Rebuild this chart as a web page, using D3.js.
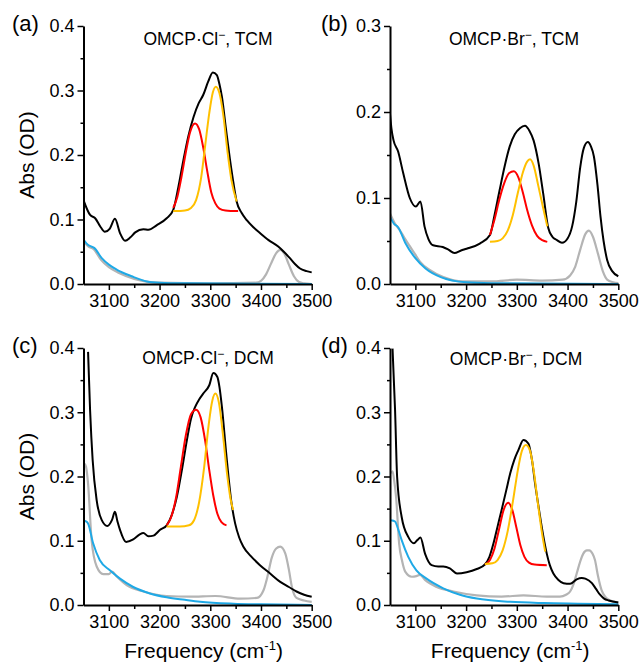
<!DOCTYPE html>
<meta charset="utf-8">
<script src="https://d3js.org/d3.v7.min.js"></script>
<head>
<style>
  body { margin: 0; background: #fff; }
  text { font-family: "Liberation Sans", Arial, sans-serif; fill: #000; }
</style>
</head>
<body>
<div id="my_dataviz"></div>

<script>
// ---- data: [frequency (cm-1), absorbance (OD)] ----

// (a) OMCP.Cl-, TCM
var aBlack = [[3050,0.130],[3063,0.107],[3073,0.102],[3084,0.088],[3092,0.081],[3102,0.086],[3112,0.101],[3122,0.079],[3132,0.067],[3142,0.072],[3152,0.080],[3168,0.085],[3178,0.084],[3194,0.091],[3214,0.102],[3227,0.115],[3237,0.150],[3247,0.192],[3257,0.230],[3267,0.259],[3277,0.280],[3286,0.293],[3296,0.314],[3305,0.328],[3313,0.324],[3318,0.310],[3323,0.290],[3331,0.240],[3339,0.192],[3346,0.155],[3352,0.128],[3362,0.110],[3372,0.099],[3385,0.088],[3398,0.079],[3415,0.068],[3434,0.058],[3445,0.050],[3457,0.040],[3467,0.031],[3477,0.024],[3490,0.020],[3500,0.018]];
var aRed = [[3227,0.118],[3235,0.135],[3243,0.165],[3252,0.205],[3260,0.235],[3270,0.249],[3278,0.240],[3286,0.212],[3294,0.175],[3302,0.142],[3310,0.125],[3318,0.117],[3330,0.114],[3355,0.113]];
var aOrange = [[3227,0.113],[3250,0.114],[3262,0.118],[3272,0.130],[3282,0.165],[3290,0.215],[3298,0.265],[3305,0.297],[3311,0.306],[3318,0.296],[3326,0.260],[3334,0.205],[3342,0.160],[3352,0.128]];
var aGray = [[3050,0.066],[3060,0.058],[3070,0.054],[3085,0.037],[3100,0.026],[3120,0.017],[3150,0.008],[3200,0.002],[3300,0.001],[3390,0.002],[3400,0.005],[3410,0.015],[3420,0.032],[3430,0.048],[3438,0.053],[3446,0.047],[3455,0.030],[3465,0.012],[3475,0.003],[3485,0.001],[3500,0.000]];
var aBlue = [[3050,0.069],[3060,0.060],[3066,0.058],[3071,0.056],[3086,0.040],[3100,0.030],[3116,0.022],[3145,0.012],[3175,0.004],[3200,0.002],[3250,0.001],[3500,0.000]];

// (b) OMCP.Br-, TCM
var bBlack = [[3050,0.198],[3053,0.180],[3057,0.167],[3066,0.154],[3076,0.129],[3089,0.100],[3101,0.090],[3110,0.096],[3118,0.067],[3126,0.052],[3135,0.045],[3154,0.043],[3165,0.040],[3177,0.036],[3190,0.039],[3201,0.041],[3227,0.047],[3247,0.057],[3256,0.080],[3266,0.109],[3276,0.137],[3286,0.160],[3296,0.174],[3306,0.181],[3316,0.184],[3325,0.178],[3333,0.167],[3343,0.140],[3352,0.105],[3362,0.065],[3370,0.055],[3379,0.051],[3389,0.048],[3400,0.053],[3409,0.067],[3417,0.095],[3425,0.136],[3432,0.158],[3440,0.165],[3446,0.160],[3452,0.148],[3459,0.115],[3465,0.078],[3471,0.050],[3478,0.028],[3488,0.015],[3500,0.009]];
var bRed = [[3247,0.057],[3256,0.075],[3265,0.097],[3275,0.117],[3285,0.129],[3294,0.131],[3303,0.124],[3312,0.106],[3320,0.087],[3330,0.068],[3340,0.056],[3350,0.051],[3360,0.049]];
var bOrange = [[3247,0.049],[3262,0.050],[3272,0.053],[3282,0.062],[3292,0.080],[3302,0.106],[3312,0.130],[3320,0.142],[3326,0.145],[3333,0.138],[3342,0.115],[3352,0.088],[3360,0.067]];
var bGray = [[3050,0.082],[3060,0.070],[3069,0.063],[3079,0.053],[3089,0.044],[3099,0.035],[3109,0.026],[3129,0.016],[3155,0.008],[3194,0.003],[3250,0.003],[3300,0.005],[3350,0.004],[3390,0.005],[3405,0.010],[3415,0.020],[3425,0.040],[3435,0.058],[3442,0.062],[3450,0.055],[3460,0.035],[3470,0.014],[3478,0.005],[3490,0.002],[3500,0.001]];
var bBlue = [[3050,0.078],[3058,0.070],[3066,0.066],[3080,0.048],[3100,0.030],[3120,0.018],[3150,0.008],[3200,0.002],[3250,0.001],[3500,0.000]];

// (c) OMCP.Cl-, DCM
var cBlack = [[3059,0.394],[3063,0.303],[3068,0.226],[3076,0.163],[3086,0.132],[3097,0.123],[3106,0.132],[3112,0.145],[3117,0.130],[3122,0.117],[3134,0.098],[3148,0.102],[3161,0.110],[3168,0.112],[3178,0.107],[3188,0.108],[3201,0.117],[3214,0.124],[3224,0.140],[3234,0.168],[3244,0.210],[3254,0.257],[3262,0.290],[3270,0.308],[3278,0.320],[3286,0.329],[3298,0.342],[3306,0.361],[3314,0.355],[3318,0.340],[3323,0.308],[3332,0.231],[3342,0.158],[3349,0.127],[3357,0.105],[3365,0.091],[3380,0.076],[3398,0.062],[3418,0.049],[3438,0.036],[3455,0.028],[3470,0.021],[3485,0.016],[3500,0.013]];
var cRed = [[3214,0.124],[3222,0.135],[3232,0.165],[3242,0.215],[3252,0.265],[3262,0.297],[3272,0.304],[3281,0.292],[3290,0.255],[3298,0.210],[3306,0.170],[3314,0.142],[3322,0.129],[3332,0.124]];
var cOrange = [[3214,0.122],[3240,0.122],[3258,0.124],[3268,0.132],[3278,0.160],[3288,0.215],[3296,0.275],[3304,0.318],[3310,0.329],[3317,0.315],[3325,0.265],[3333,0.205],[3340,0.165],[3345,0.148]];
var cGray = [[3052,0.220],[3055,0.215],[3059,0.189],[3066,0.101],[3076,0.060],[3089,0.048],[3100,0.048],[3106,0.052],[3116,0.044],[3135,0.031],[3168,0.021],[3214,0.014],[3260,0.013],[3310,0.014],[3359,0.010],[3392,0.011],[3405,0.023],[3413,0.045],[3421,0.073],[3430,0.088],[3438,0.091],[3448,0.080],[3455,0.055],[3461,0.028],[3470,0.011],[3485,0.007],[3500,0.005]];
var cBlue = [[3050,0.131],[3055,0.130],[3059,0.127],[3069,0.096],[3082,0.070],[3102,0.054],[3122,0.041],[3148,0.028],[3181,0.018],[3214,0.012],[3250,0.008],[3280,0.005],[3346,0.002],[3400,0.001],[3500,0.000]];

// (d) OMCP.Br-, DCM
var dBlack = [[3055,0.399],[3060,0.303],[3064,0.200],[3073,0.137],[3086,0.106],[3097,0.096],[3104,0.101],[3110,0.105],[3119,0.080],[3132,0.062],[3145,0.060],[3155,0.060],[3168,0.057],[3182,0.049],[3201,0.051],[3221,0.056],[3237,0.063],[3246,0.075],[3254,0.096],[3262,0.122],[3270,0.148],[3279,0.178],[3287,0.205],[3295,0.226],[3303,0.241],[3313,0.257],[3323,0.251],[3330,0.225],[3336,0.189],[3343,0.152],[3349,0.122],[3359,0.080],[3365,0.062],[3372,0.049],[3382,0.039],[3392,0.034],[3405,0.033],[3418,0.040],[3428,0.042],[3435,0.041],[3448,0.034],[3456,0.025],[3464,0.016],[3472,0.010],[3481,0.007],[3500,0.004]];
var dRed = [[3237,0.063],[3247,0.070],[3256,0.088],[3265,0.118],[3274,0.148],[3283,0.159],[3291,0.148],[3299,0.121],[3307,0.093],[3315,0.075],[3324,0.066],[3335,0.063],[3359,0.062]];
var dOrange = [[3237,0.064],[3252,0.065],[3262,0.070],[3272,0.085],[3282,0.115],[3292,0.160],[3302,0.210],[3310,0.240],[3318,0.249],[3326,0.240],[3334,0.205],[3342,0.155],[3350,0.110],[3356,0.083]];
var dGray = [[3052,0.205],[3055,0.208],[3058,0.195],[3062,0.168],[3068,0.096],[3074,0.068],[3080,0.052],[3093,0.044],[3102,0.045],[3109,0.047],[3119,0.039],[3142,0.028],[3175,0.021],[3221,0.015],[3270,0.013],[3313,0.015],[3359,0.013],[3385,0.013],[3397,0.016],[3405,0.021],[3412,0.033],[3418,0.049],[3425,0.068],[3431,0.080],[3438,0.085],[3443,0.085],[3449,0.080],[3454,0.070],[3460,0.045],[3467,0.023],[3475,0.012],[3484,0.007],[3500,0.004]];
var dBlue = [[3052,0.132],[3060,0.130],[3066,0.118],[3073,0.101],[3086,0.075],[3102,0.054],[3122,0.041],[3155,0.026],[3188,0.016],[3221,0.010],[3287,0.005],[3353,0.003],[3420,0.002],[3500,0.001]];

var panelLetters = ["(a)", "(b)", "(c)", "(d)"];
var panelSalt = ["Cl", "Br", "Cl", "Br"];
var panelSolvent = ["TCM", "TCM", "DCM", "DCM"];
var panelYMax = [0.4, 0.3, 0.4, 0.4];
var xTicks = [3100, 3200, 3300, 3400, 3500];
var xMinorTicks = [3150, 3250, 3350, 3450];

// ---- layout ----
var W = 643, H = 668;
var boxes = [
  {left: 83.5, right: 311.7, top: 26, bottom: 284, titleX: 208, titleY: 45},
  {left: 390, right: 618.3, top: 26, bottom: 284, titleX: 514, titleY: 45},
  {left: 83.5, right: 311.7, top: 348, bottom: 605, titleX: 208, titleY: 364},
  {left: 390, right: 618.3, top: 348, bottom: 605, titleX: 516, titleY: 365}
];
var seriesByPanel = [
  [aGray, aBlue, aBlack, aRed, aOrange],
  [bGray, bBlue, bBlack, bRed, bOrange],
  [cGray, cBlue, cBlack, cRed, cOrange],
  [dGray, dBlue, dBlack, dRed, dOrange]
];
var colors = ["#b4b4b4", "#1fa9e6", "#000000", "#ff0000", "#ffc000"];
var widths = [2.2, 2, 2, 2, 2];

var svg = d3.select("#my_dataviz")
  .append("svg")
    .attr("width", W)
    .attr("height", H);

boxes.forEach(function(b, i) {
  var x = d3.scaleLinear().domain([3050, 3500]).range([b.left, b.right]);
  var y = d3.scaleLinear().domain([0, panelYMax[i]]).range([b.bottom, b.top]);

  var majorY = d3.range(0, panelYMax[i] + 0.001, 0.1);
  var minorY = d3.range(0.05, panelYMax[i], 0.1);

  svg.append("clipPath").attr("id", "clip" + i)
    .append("rect")
      .attr("x", b.left).attr("y", b.top - 1)
      .attr("width", b.right - b.left + 2).attr("height", b.bottom - b.top + 1);

  var g = svg.append("g").attr("clip-path", "url(#clip" + i + ")");
  var line = d3.line()
    .x(function(d) { return x(d[0]); })
    .y(function(d) { return y(d[1]); })
    .curve(d3.curveMonotoneX);

  seriesByPanel[i].forEach(function(s, k) {
    g.append("path")
      .datum(s)
      .attr("d", line)
      .attr("fill", "none")
      .attr("stroke", colors[k])
      .attr("stroke-width", widths[k])
      .attr("stroke-linejoin", "round");
  });

  // y axis
  var ya = svg.append("g").attr("transform", "translate(" + b.left + ",0)")
    .call(d3.axisLeft(y).tickValues(majorY).tickSize(6).tickSizeOuter(0).tickPadding(3)
      .tickFormat(d3.format(".1f")));
  svg.append("g").attr("transform", "translate(" + b.left + ",0)")
    .call(d3.axisLeft(y).tickValues(minorY).tickSize(3).tickSizeOuter(0).tickFormat(""))
    .select(".domain").remove();

  // x axis
  var xa = svg.append("g").attr("transform", "translate(0," + b.bottom + ")")
    .call(d3.axisBottom(x).tickValues(xTicks).tickSize(6).tickSizeOuter(0).tickPadding(4)
      .tickFormat(d3.format("d")));
  svg.append("g").attr("transform", "translate(0," + b.bottom + ")")
    .call(d3.axisBottom(x).tickValues(xMinorTicks).tickSize(4).tickSizeOuter(0).tickFormat(""))
    .select(".domain").remove();

  svg.selectAll(".domain").attr("stroke-width", 2);
  svg.selectAll(".tick line").attr("stroke-width", 1.5);
  ya.selectAll("text").style("font-size", "18px").style("font-family", "Liberation Sans, Arial, sans-serif");
  xa.selectAll("text").style("font-size", "18px").style("font-family", "Liberation Sans, Arial, sans-serif");

  // panel letter
  svg.append("text")
    .attr("x", i % 2 === 0 ? 12 : 321)
    .attr("y", b.top + 5)
    .style("font-size", "22px")
    .text(panelLetters[i]);

  // title
  var t = svg.append("text")
    .attr("x", b.titleX)
    .attr("y", b.titleY)
    .attr("text-anchor", "middle")
    .style("font-size", "17.5px");
  t.append("tspan").text("OMCP\u00b7" + panelSalt[i]);
  t.append("tspan").attr("dy", -6).style("font-size", "12px").text("\u2212");
  t.append("tspan").attr("dy", 6).text(", " + panelSolvent[i]);

  // y label (left column only)
  if (i % 2 === 0) {
    svg.append("text")
      .attr("transform", "translate(34," + (b.top + b.bottom) / 2 + ") rotate(-90)")
      .attr("text-anchor", "middle")
      .style("font-size", "21px")
      .text("Abs (OD)");
  }
  // x label (bottom row only)
  if (i >= 2) {
    var xl = svg.append("text")
      .attr("x", (b.left + b.right) / 2 + 6)
      .attr("y", 658)
      .attr("text-anchor", "middle")
      .style("font-size", "21px");
    xl.append("tspan").text("Frequency (cm");
    xl.append("tspan").attr("dy", -8).style("font-size", "13px").text("-1");
    xl.append("tspan").attr("dy", 8).text(")");
  }
});
</script>
</body>
